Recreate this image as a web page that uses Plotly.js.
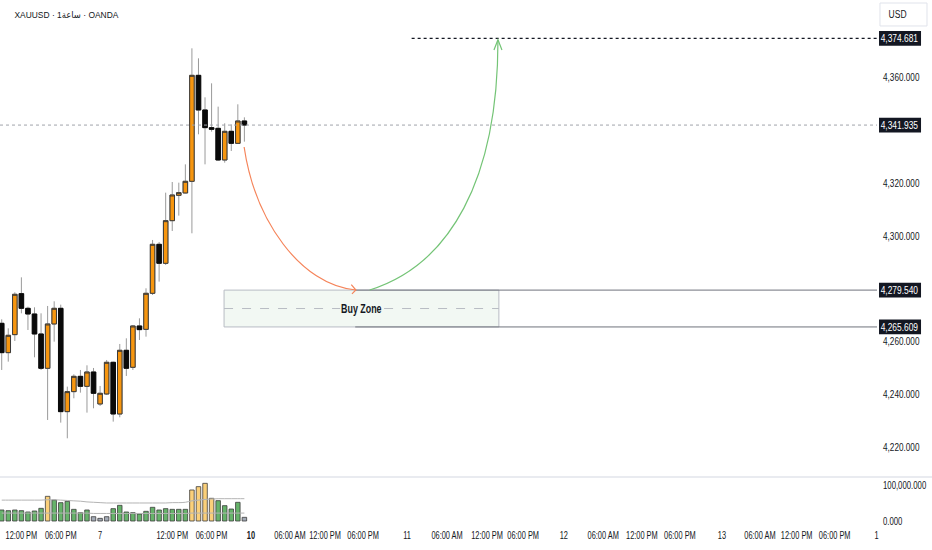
<!DOCTYPE html>
<html>
<head>
<meta charset="utf-8">
<script src="https://cdn.plot.ly/plotly-3.0.1.min.js"></script>
<style>html,body{margin:0;padding:0;background:#fff;}#chart{width:932px;height:550px;}</style>
</head>
<body>
<div id="chart"></div>
<script>
// ---------- DATA ----------
const opens  = [4266.98, 4255.89, 4262.70, 4278.20, 4272.65, 4270.51, 4262.95, 4249.97, 4266.73, 4272.65,
                4233.59, 4241.15, 4246.94, 4243.16, 4248.58, 4236.49, 4240.27, 4252.24, 4232.71, 4256.78,
                4250.35, 4265.98, 4264.71, 4278.33, 4296.85, 4289.67, 4305.79, 4315.37, 4316.26, 4320.67,
                4360.74, 4347.64, 4340.96, 4340.70, 4328.73, 4339.57, 4335.03, 4343.48];
const highs  = [4268.50, 4265.09, 4278.70, 4284.37, 4273.28, 4273.03, 4270.76, 4273.54, 4275.30, 4274.04,
                4243.04, 4247.70, 4249.34, 4251.10, 4250.10, 4243.29, 4253.12, 4252.49, 4259.17, 4261.31,
                4266.35, 4268.87, 4280.22, 4298.49, 4297.73, 4316.38, 4320.41, 4320.16, 4327.09, 4370.95,
                4367.17, 4352.42, 4357.72, 4348.90, 4342.59, 4342.22, 4349.78, 4344.86];
const lows   = [4249.34, 4252.49, 4260.30, 4270.76, 4264.46, 4254.13, 4249.34, 4230.44, 4260.05, 4229.43,
                4223.51, 4238.63, 4240.77, 4233.21, 4234.85, 4235.73, 4239.89, 4229.81, 4231.45, 4247.07,
                4249.34, 4260.68, 4261.94, 4277.70, 4282.74, 4289.04, 4301.89, 4307.69, 4316.13, 4301.01,
                4338.44, 4327.09, 4339.44, 4328.50, 4327.72, 4332.14, 4334.80, 4335.66];
const closes = [4255.89, 4262.45, 4277.95, 4272.65, 4270.51, 4262.95, 4249.97, 4266.73, 4272.65, 4233.59,
                4241.15, 4246.94, 4243.16, 4248.58, 4240.52, 4240.52, 4252.24, 4232.71, 4256.78, 4249.97,
                4265.98, 4264.59, 4278.33, 4296.85, 4289.67, 4305.79, 4315.50, 4316.38, 4320.67, 4360.74,
                4347.64, 4340.96, 4340.33, 4328.73, 4339.57, 4335.03, 4343.48, 4341.935];

// volume in millions
const volumesM = [30.6, 28.7, 30.6, 28.7, 25.0, 27.8, 35.2, 68.5, 58.3, 50.9,
                  54.6, 32.4, 23.1, 30.6, 12.0, 7.4, 12.0, 34.3, 43.5, 25.0,
                  23.1, 19.4, 26.9, 38.0, 30.6, 34.3, 32.4, 32.4, 32.4, 86.1,
                  95.4, 104.6, 63.0, 56.5, 42.6, 33.3, 51.9, 10.2];
// n = normal (green), h = high (yellow), l = low (grey)
const volKind = ['n','n','n','n','n','n','n','h','n','n',
                 'n','n','n','n','l','l','l','n','n','n',
                 'n','n','n','n','n','n','n','n','n','h',
                 'h','h','h','n','n','n','n','l'];
const volUpperM = [58, 58, 58, 58, 58, 58, 58, 59, 59, 58,
                   57, 56, 55, 53, 52, 51, 50, 50, 50, 50,
                   50, 50, 50, 50, 50, 50, 51, 51, 52, 56,
                   58, 60, 61, 62, 62, 62, 62, 62];
const volLowerM = [22, 22, 22, 22, 22, 22, 22, 22, 22, 22,
                   22, 22, 22, 22, 21, 21, 21, 21, 21, 21,
                   21, 21, 21, 21, 21, 21, 21, 21, 21, 22,
                   22, 22, 22, 22, 22, 22, 22, 22];

// time axis ticks (bar index positions) and labels
const timeTickPos  = [3, 9, 15, 26, 32, 38, 43.95, 49.3, 55.1, 61.8, 67.9, 74.0, 79.5, 85.7, 91.7, 97.6, 103.4, 109.8, 115.6, 121.2, 127.0, 133.4];
const timeTickText = ['12:00 PM','06:00 PM','7','12:00 PM','06:00 PM','<b>10</b>','06:00 AM','12:00 PM','06:00 PM','11',
                      '06:00 AM','12:00 PM','06:00 PM','12','06:00 AM','12:00 PM','06:00 PM','13','06:00 AM','12:00 PM','06:00 PM','1'];

const priceTicks     = [4220, 4240, 4260, 4300, 4320, 4360];
const priceTickText  = ['4,220.000','4,240.000','4,260.000','4,300.000','4,320.000','4,360.000'];
const volTicks       = [0, 100000000];
const volTickText    = ['0.000','100,000.000'];

// key levels
const targetPrice  = 4374.681;
const lastPrice    = 4341.935;
const zoneTop      = 4279.540;
const zoneBottom   = 4265.609;
const levelPrices  = [targetPrice, lastPrice, zoneTop, zoneBottom];
const levelLabels  = ['4,374.681','4,341.935','4,279.540','4,265.609'];

// ---------- BUILD ----------
const idx = opens.map((_, i) => i);
const bodyHigh = opens.map((o, i) => Math.max(o, closes[i]));
const bodyLow  = opens.map((o, i) => Math.min(o, closes[i]));
const kindColor = {n: '#66b36a', h: '#fbd07a', l: '#a3aab6'};

const FONT = "'Liberation Sans', Arial, sans-serif";
const TXT = '#131722';

const wicks = {
  type: 'candlestick', x: idx, open: opens, high: highs, low: lows, close: closes,
  xaxis: 'x', yaxis: 'y', hoverinfo: 'skip',
  increasing: {line: {color: '#9a9a9a', width: 1}, fillcolor: '#f7960f'},
  decreasing: {line: {color: '#9a9a9a', width: 1}, fillcolor: '#0a0a0a'},
  whiskerwidth: 0
};
const bodies = {
  type: 'candlestick', x: idx, open: opens, high: bodyHigh, low: bodyLow, close: closes,
  xaxis: 'x', yaxis: 'y', hoverinfo: 'skip',
  increasing: {line: {color: '#3a3a3a', width: 1}, fillcolor: '#f7960f'},
  decreasing: {line: {color: '#0a0a0a', width: 1}, fillcolor: '#0a0a0a'},
  whiskerwidth: 0
};
const vol = {
  type: 'bar', x: idx, y: volumesM.map(v => v * 1e6), xaxis: 'x', yaxis: 'y2', hoverinfo: 'skip',
  marker: {color: volKind.map(k => kindColor[k]), line: {color: '#3c3c3c', width: 0.8}}
};
const volUp = {
  type: 'scatter', mode: 'lines', x: idx, y: volUpperM.map(v => v * 1e6), xaxis: 'x', yaxis: 'y2',
  line: {color: '#b4b4b4', width: 1, shape: 'spline'}, hoverinfo: 'skip'
};
const volLo = {
  type: 'scatter', mode: 'lines', x: idx, y: volLowerM.map(v => v * 1e6), xaxis: 'x', yaxis: 'y2',
  line: {color: '#b4b4b4', width: 1, shape: 'spline'}, hoverinfo: 'skip'
};

const xRange = [-0.26, 133.45];
const zoneX0 = 33.9, zoneX1 = 75.8, rayX0 = 53.9, targetX0 = 62.5;
const zoneLabelX = 54.9, zoneGap0 = 51.6, zoneGap1 = 58.3;
const zoneMid = (zoneTop + zoneBottom) / 2;
const labelHalf = 2.8;   // half height of the price tags, in price units

const shapes = [
  // pane separator
  {type: 'line', xref: 'paper', yref: 'paper', x0: 0, x1: 1.07, y0: 0.0966, y1: 0.0966, line: {color: '#e9ebf0', width: 2}},
  // target dotted line
  {type: 'line', xref: 'x', yref: 'y', x0: targetX0, x1: xRange[1], y0: targetPrice, y1: targetPrice, line: {color: '#131722', width: 1.3, dash: 'dot'}},
  // last price dotted line
  {type: 'line', xref: 'x', yref: 'y', x0: xRange[0], x1: xRange[1], y0: lastPrice, y1: lastPrice, line: {color: '#a0a3ab', width: 1, dash: 'dot'}},
  // buy zone box
  {type: 'rect', xref: 'x', yref: 'y', x0: zoneX0, x1: zoneX1, y0: zoneBottom, y1: zoneTop, fillcolor: '#f2f8f3', line: {color: '#b8bcc4', width: 1}},
  {type: 'line', xref: 'x', yref: 'y', x0: zoneX0, x1: zoneGap0, y0: zoneMid, y1: zoneMid, line: {color: '#b8bcc4', width: 1, dash: 'dash'}},
  {type: 'line', xref: 'x', yref: 'y', x0: zoneGap1, x1: zoneX1, y0: zoneMid, y1: zoneMid, line: {color: '#b8bcc4', width: 1, dash: 'dash'}},
  // rays
  {type: 'line', xref: 'x', yref: 'y', x0: rayX0, x1: xRange[1], y0: zoneTop, y1: zoneTop, line: {color: '#6f727c', width: 1}},
  {type: 'line', xref: 'x', yref: 'y', x0: rayX0, x1: xRange[1], y0: zoneBottom, y1: zoneBottom, line: {color: '#6f727c', width: 1}},
  // orange arrow
  {type: 'path', xref: 'x', yref: 'y', path: 'M 36.96,4333.65 C 38.6,4306.05 45.5,4281.47 54.0,4279.58', line: {color: '#f5845a', width: 1.2}},
  {type: 'path', xref: 'x', yref: 'y', path: 'M 53.3,4281.6 L 54.0,4279.58 L 53.4,4278.1', line: {color: '#f5845a', width: 1.2}},
  // green arrow
  {type: 'path', xref: 'x', yref: 'y', path: 'M 56.1,4279.58 C 68.3,4289.04 75.66,4321.17 75.66,4374.0', line: {color: '#74c476', width: 1.2}},
  {type: 'path', xref: 'x', yref: 'y', path: 'M 75.05,4370.3 L 75.66,4374.2 L 76.27,4370.3', line: {color: '#74c476', width: 1.2}},
  // USD box
  {type: 'rect', xref: 'paper', yref: 'paper', x0: 1.0034, x1: 1.0570, y0: 0.9508, y1: 0.9943, line: {color: '#e0e3eb', width: 1}, fillcolor: 'rgba(0,0,0,0)'}
];
// price tags on the axis
levelPrices.forEach(p => shapes.push({
  type: 'rect', xref: 'paper', yref: 'y', x0: 1.0023, x1: 1.0502, y0: p - labelHalf, y1: p + labelHalf,
  fillcolor: '#131722', line: {width: 0}
}));

const annotations = levelPrices.map((p, i) => ({
  xref: 'paper', yref: 'y', x: 1.0262, y: p, xanchor: 'center', yanchor: 'middle', showarrow: false,
  text: levelLabels[i], font: {family: FONT, size: 10.5, color: '#ffffff'}
}));
annotations.push(
  {xref: 'paper', yref: 'paper', x: 0.005, y: 0.972, xanchor: 'left', yanchor: 'middle', showarrow: false,
   text: 'XAUUSD · 1ساعة · OANDA', font: {family: "'Liberation Sans', 'DejaVu Sans', sans-serif", size: 9.8, color: TXT}},
  {xref: 'paper', yref: 'paper', x: 1.0091, y: 0.9726, xanchor: 'left', yanchor: 'middle', showarrow: false,
   text: 'USD', font: {family: FONT, size: 10, color: TXT}},
  {xref: 'x', yref: 'y', x: zoneLabelX, y: zoneMid, xanchor: 'center', yanchor: 'middle', showarrow: false,
   text: '<b>Buy Zone</b>', font: {family: FONT, size: 12, color: TXT}}
);

const layout = {
  width: 932, height: 550,
  margin: {l: 0, r: 55, t: 0, b: 22},
  paper_bgcolor: '#ffffff', plot_bgcolor: '#ffffff',
  showlegend: false,
  boxgap: 0.31, boxgroupgap: 0, bargap: 0.31, boxmode: 'overlay',
  font: {family: FONT, size: 10, color: TXT},
  xaxis: {
    range: xRange, anchor: 'y2', tickmode: 'array', tickvals: timeTickPos, ticktext: timeTickText,
    tickangle: 0, ticklabeloverflow: 'allow', showgrid: false, zeroline: false, showline: false, ticks: '',
    rangeslider: {visible: false}, tickfont: {family: FONT, size: 10, color: TXT}, fixedrange: true
  },
  yaxis: {
    domain: [0.0966, 1], range: [4208.88, 4389.22], side: 'right',
    tickmode: 'array', tickvals: priceTicks, ticktext: priceTickText, ticklabeloverflow: 'allow',
    showgrid: false, zeroline: false, showline: false, ticks: '', ticklabelstandoff: 5,
    tickfont: {family: FONT, size: 10.5, color: TXT}, fixedrange: true
  },
  yaxis2: {
    domain: [0, 0.0947], range: [-19.4e6, 119.4e6], side: 'right',
    tickmode: 'array', tickvals: volTicks, ticktext: volTickText, ticklabeloverflow: 'allow',
    showgrid: false, zeroline: false, showline: false, ticks: '', ticklabelstandoff: 5,
    tickfont: {family: FONT, size: 10.5, color: TXT}, fixedrange: true
  },
  shapes: shapes,
  annotations: annotations
};

// the reference uses a condensed face; squeeze glyphs horizontally (text stays real text)
function squeeze(nodes, f) {
  nodes.forEach(t => {
    const w = t.getComputedTextLength();
    if (w > 0) {
      t.setAttribute('textLength', (w * f).toFixed(2));
      t.setAttribute('lengthAdjust', 'spacingAndGlyphs');
    }
  });
}

Plotly.newPlot('chart', [wicks, bodies, vol, volUp, volLo], layout, {displayModeBar: false, staticPlot: true})
  .then(gd => {
    squeeze(gd.querySelectorAll('g.xtick text'), 0.74);
    squeeze(gd.querySelectorAll('g.ytick text'), 0.78);
    squeeze(gd.querySelectorAll('g.y2tick text'), 0.74);
    const ann = gd.querySelectorAll('g.annotation');
    ann.forEach((g, i) => {
      const t = g.querySelector('text.annotation-text');
      if (!t) return;
      if (i < levelPrices.length) squeeze([t], 0.8);
      else if (i === levelPrices.length) squeeze([t], 0.86);
      else if (i === levelPrices.length + 1) squeeze([t], 0.85);
      else if (i === levelPrices.length + 2) squeeze([t], 0.74);
    });
  });
</script>
</body>
</html>
